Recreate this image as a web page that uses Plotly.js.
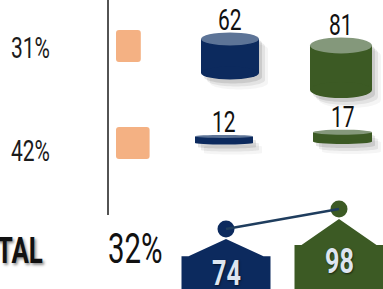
<!DOCTYPE html>
<html><head><meta charset="utf-8">
<script src="https://cdn.plot.ly/plotly-3.0.1.min.js"></script>
<style>
html,body{margin:0;padding:0;background:#fff;overflow:hidden}
#chart{width:383px;height:289px}
text.annotation-text{transform-box:fill-box;transform-origin:center;transform:scaleX(0.7)}
text.annotation-text[text-anchor="start"]{transform-origin:left center}
text.annotation-text[text-anchor="end"]{transform-origin:right center}
</style></head><body><div id="chart"></div>
<script>
// ---- data ----
const rowLabels = ['31%', '42%'];
const rowPercents = [31, 42];
const blueValues = [62, 12];
const greenValues = [81, 17];
const totalLabel = 'TOTAL';
const totalPercentLabel = '32%';
const totalValues = [74, 98];

// ---- style / layout constants ----
const W = 383, H = 289;
const NAVY = '#0c2a5e', NAVY_TOP = '#5d7497';
const GREEN = '#3c5a24', GREEN_TOP = '#84987b';
const ORANGE = '#f4b183', LINE = '#1f3d5e';
const FONT = 'Roboto, "DejaVu Sans", sans-serif';

const rowY = [46, 143];          // pixel rows of the orange bars
const rowTextY = [47, 150];
const BAR_ORIGIN = 116, PX2 = 0.8; // orange bar axis: px per percent
const PX4 = 0.55;                  // cylinder axis: px per unit
const blueX = [230, 224], greenX = [341, 342.5];
const blueW = [58, 58], greenW = [62, 59];
const blueBottom = [73, 143], greenBottom = [90, 141.5];
const blueRy = [6.5, 1.5], greenRy = [8, 2.5];
const houseX = [226, 339];
const TOT_RANGE = [2, 348.8];      // totals axis (1.2 units per px)
const UPP3 = 1.2;

// ---- traces ----
const traces = [];
traces.push({
  type: 'bar', orientation: 'h', x: rowPercents, y: rowY, xaxis: 'x2', yaxis: 'y',
  base: 0, width: 32, marker: {color: ORANGE, cornerradius: 3}, hoverinfo: 'skip'
});
function cylTrace(xs, vals, bottoms, ws, col) {
  return {type: 'bar', x: xs, y: vals.map(v => -v), base: bottoms.map(b => b / PX4),
    width: ws, xaxis: 'x', yaxis: 'y4', marker: {color: col, line: {width: 0}}, hoverinfo: 'skip'};
}
traces.push(cylTrace(blueX, blueValues, blueBottom, blueW, NAVY));
traces.push(cylTrace(greenX, greenValues, greenBottom, greenW, GREEN));

// houses
const houseCols = [NAVY, GREEN];
totalValues.forEach((v, i) => {
  const cx = houseX[i], top = v * 0.56, peak = v - 10 * UPP3, bot = 0;
  traces.push({
    type: 'scatter', mode: 'lines', fill: 'toself', fillcolor: houseCols[i],
    line: {width: 0, color: houseCols[i]}, xaxis: 'x', yaxis: 'y3', hoverinfo: 'skip',
    x: [cx - 44.5, cx - 44.5, cx - 37.5, cx, cx + 37.5, cx + 44.5, cx + 44.5, cx - 44.5],
    y: [bot, top, top, peak, top, top, bot, bot]
  });
});
traces.push({type: 'scatter', mode: 'markers', x: houseX, y: totalValues, xaxis: 'x', yaxis: 'y3',
  marker: {size: 17, color: houseCols, line: {width: 0}}, hoverinfo: 'skip'});
traces.push({type: 'scatter', mode: 'lines', x: houseX, y: totalValues, xaxis: 'x', yaxis: 'y3',
  line: {color: LINE, width: 2.5, shape: 'spline'}, hoverinfo: 'skip'});

// ---- shapes ----
const shapes = [];
shapes.push({type: 'line', xref: 'x', yref: 'y', x0: 108, x1: 108, y0: 0, y1: 215,
  line: {color: '#1a1a1a', width: 1.5}, layer: 'below'});
function P(x, yPx) { return x + ',' + (yPx / PX4); }
function cylinder(cx, w, botPx, val, ry, col, topCol) {
  const topPx = botPx - val * PX4;
  const a = w / 2, k = 0.5523;
  [[3, 4, 0.10], [6, 7, 0.07], [9, 10, 0.04]].forEach(([dx, dy, al]) => {
    const xl = cx - a + dx, xr = cx + a + dx, c = cx + dx, yt = topPx + dy, yb = botPx + dy;
    const path = 'M' + P(xl, yt) + ' L' + P(xl, yb) +
      ' C' + P(xl, yb + k * ry) + ' ' + P(c - k * a, yb + ry) + ' ' + P(c, yb + ry) +
      ' C' + P(c + k * a, yb + ry) + ' ' + P(xr, yb + k * ry) + ' ' + P(xr, yb) +
      ' L' + P(xr, yt) +
      ' C' + P(xr, yt - k * ry) + ' ' + P(c + k * a, yt - ry) + ' ' + P(c, yt - ry) +
      ' C' + P(c - k * a, yt - ry) + ' ' + P(xl, yt - k * ry) + ' ' + P(xl, yt) + ' Z';
    shapes.push({type: 'path', xref: 'x', yref: 'y4', path: path, fillcolor: 'rgba(0,0,0,' + al + ')',
      line: {width: 0}, layer: 'below'});
  });
  const baseU = botPx / PX4, topU = baseU - val, ryU = ry / PX4;
  shapes.push({type: 'circle', xref: 'x', yref: 'y4', x0: cx - a, x1: cx + a, y0: baseU - ryU, y1: baseU + ryU,
    fillcolor: col, line: {width: 0}, layer: 'above'});
  shapes.push({type: 'circle', xref: 'x', yref: 'y4', x0: cx - a, x1: cx + a, y0: topU - ryU, y1: topU + ryU,
    fillcolor: topCol, line: {width: 0}, layer: 'above'});
  return topU - ryU;
}
const annotations = [];
function cylLabel(x, yU, val) {
  annotations.push({xref: 'x', yref: 'y4', x: x, y: yU, text: String(val), showarrow: false,
    xanchor: 'center', yanchor: 'middle', yshift: 13, font: {family: FONT, size: 30, color: '#111'}});
}
blueValues.forEach((v, i) => cylLabel(blueX[i], cylinder(blueX[i], blueW[i], blueBottom[i], v, blueRy[i], NAVY, NAVY_TOP), v));
greenValues.forEach((v, i) => cylLabel(greenX[i], cylinder(greenX[i], greenW[i], greenBottom[i], v, greenRy[i], GREEN, GREEN_TOP), v));

// ---- text ----
rowLabels.forEach((t, i) => annotations.push({xref: 'x', yref: 'y', x: 9, y: rowTextY[i], text: t,
  showarrow: false, xanchor: 'left', align: 'left', yanchor: 'middle', font: {family: FONT, size: 30, color: '#1b1b1b'}}));
annotations.push({xref: 'x', yref: 'y', x: 45, y: 250, text: totalLabel, showarrow: false,
  xanchor: 'right', align: 'right', yanchor: 'middle',
  font: {family: FONT, size: 37, weight: 700, color: '#111', shadow: '2px 2px 3px rgba(0,0,0,0.45)'}});
annotations.push({xref: 'x', yref: 'y', x: 135, y: 249, text: totalPercentLabel, showarrow: false,
  xanchor: 'center', yanchor: 'middle', font: {family: FONT, size: 42, color: '#111'}});
totalValues.forEach((v, i) => annotations.push({xref: 'x', yref: 'y3', x: houseX[i], y: v * 0.56 - 16 * UPP3,
  text: String(v), showarrow: false, xanchor: 'center', yanchor: 'middle',
  font: {family: FONT, size: 36, weight: 700, color: '#dde5f0', shadow: '1px 1px 2px rgba(0,0,0,0.6)'}}));

const ax = {visible: false, fixedrange: true, showgrid: false, zeroline: false};
const layout = {
  width: W, height: H, margin: {l: 0, r: 0, t: 0, b: 0, pad: 0},
  paper_bgcolor: '#fff', plot_bgcolor: 'rgba(0,0,0,0)', showlegend: false, barmode: 'overlay',
  xaxis: Object.assign({range: [0, W]}, ax),
  xaxis2: Object.assign({range: [-BAR_ORIGIN / PX2, (W - BAR_ORIGIN) / PX2], overlaying: 'x', anchor: 'y'}, ax),
  yaxis: Object.assign({range: [H, 0]}, ax),
  yaxis3: Object.assign({range: TOT_RANGE, overlaying: 'y', anchor: 'x'}, ax),
  yaxis4: Object.assign({range: [H / PX4, 0], overlaying: 'y', anchor: 'x'}, ax),
  shapes: shapes, annotations: annotations
};
Plotly.newPlot('chart', traces, layout, {staticPlot: true, displayModeBar: false});
</script></body></html>
